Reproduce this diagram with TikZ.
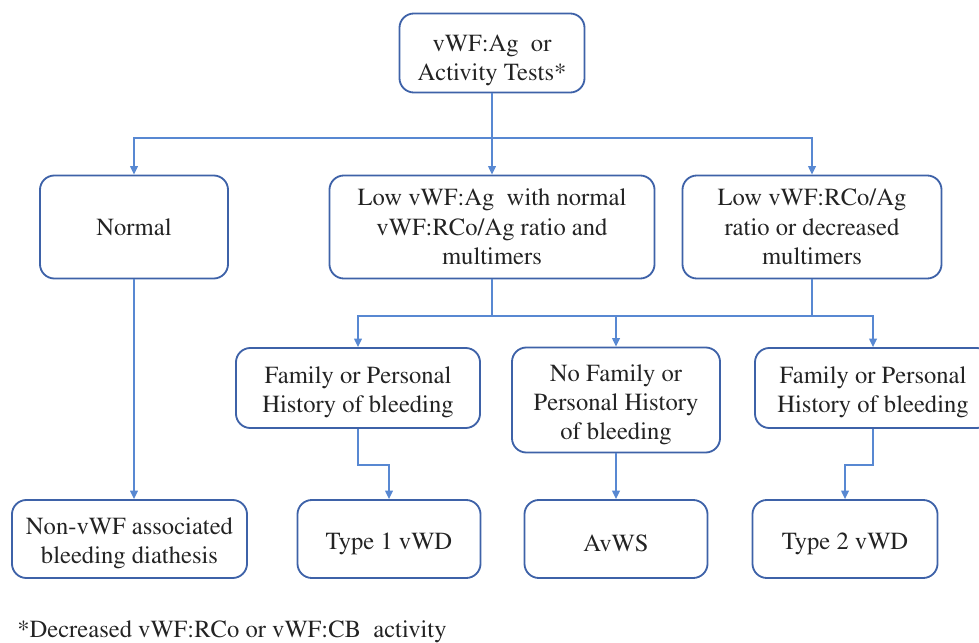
\documentclass[tikz,border=0pt]{standalone}
\usepackage[T1]{fontenc}
\usepackage{mathptmx}
\usetikzlibrary{arrows.meta}
\definecolor{vwfborder}{RGB}{62, 98, 168}
\definecolor{vwfline}{RGB}{88, 136, 210}
\definecolor{vwftext}{RGB}{35, 35, 35}
\newcommand{\vwflift}[1][18.5pt]{\rule{0pt}{#1}}

\begin{document}
\begin{tikzpicture}[x=0.025cm, y=-0.025cm,
  box/.style={rectangle, rounded corners=0.36cm, draw=vwfborder, line width=1.3pt,
              fill=white, align=center, inner sep=0pt, text=vwftext,
              font=\fontsize{17.5}{20.8}\selectfont},
  note/.style={font=\fontsize{17.5}{20.8}\selectfont, text=vwftext, inner sep=0pt},
  lnk/.style={draw=vwfline, line width=0.9pt},
  arr/.style={lnk, -{Triangle[length=6pt, width=5.5pt]}}
]
  \useasboundingbox (0,0) rectangle (979,643);

  % Row 1 — tests
  \node[box, minimum width=4.625cm, minimum height=1.975cm] (tests) at (492, 53)
       {\vwflift[22pt]vWF:Ag\ \ or\\Activity Tests*};

  % Row 2 — results
  \node[box, minimum width=4.7cm,   minimum height=2.575cm] (normal) at (134, 227) {Normal};
  \node[box, minimum width=8.125cm, minimum height=2.575cm] (lowag)  at (492, 227)
       {Low vWF:Ag\ \ with normal\\vWF:RCo/Ag ratio and\\multimers};
  \node[box, minimum width=6.475cm, minimum height=2.575cm] (lowrco) at (812, 227)
       {Low vWF:RCo/Ag\\ratio or decreased\\multimers};

  % Row 3 — history
  \node[box, minimum width=6.1cm, minimum height=2.0cm]   (famA)  at (358, 388)
       {\vwflift Family or Personal\\History of bleeding};
  \node[box, minimum width=5.2cm, minimum height=2.625cm] (nofam) at (616, 400)
       {\vwflift No Family or\\Personal History\\of bleeding};
  \node[box, minimum width=5.9cm, minimum height=2.0cm]   (famB)  at (873, 388)
       {\vwflift Family or Personal\\History of bleeding};

  % Row 4 — diagnosis
  \node[box, minimum width=5.875cm, minimum height=1.95cm] (nonvwf) at (129.5, 539)
       {\vwflift Non-vWF associated\\bleeding diathesis};
  \node[box, minimum width=4.575cm, minimum height=1.95cm] (type1) at (389, 539) {\vwflift Type 1 vWD};
  \node[box, minimum width=4.575cm, minimum height=1.95cm] (avws)  at (616, 539) {\vwflift AvWS};
  \node[box, minimum width=4.625cm, minimum height=1.95cm] (type2) at (845, 539) {\vwflift Type 2 vWD};

  % Footnote
  \node[note, anchor=west] (foot) at (17, 632) {*Decreased vWF:RCo or vWF:CB\ \ activity};

  % Arrows
  \coordinate (splitA) at (492, 138);
  \coordinate (splitB) at (492, 316);
  \coordinate (bendA)  at (358, 465);
  \coordinate (bendB)  at (873, 465);

  \draw[lnk] (tests) -- (splitA);
  \draw[arr] (splitA) -| (normal);
  \draw[arr] (splitA) -- (lowag);
  \draw[arr] (splitA) -| (lowrco);

  \draw[lnk] (lowag)  -- (splitB);
  \draw[lnk] (lowrco) -- (lowrco |- splitB);
  \draw[arr] (splitB) -| (famA);
  \draw[arr] (splitB) -| (nofam);
  \draw[arr] (splitB) -| (famB);

  \draw[arr] (normal) -- (normal |- nonvwf.north);
  \draw[arr] (famA)   -- (bendA) -| (type1);
  \draw[arr] (nofam)  -- (avws);
  \draw[arr] (famB)   -- (bendB) -| (type2);
\end{tikzpicture}
\end{document}
